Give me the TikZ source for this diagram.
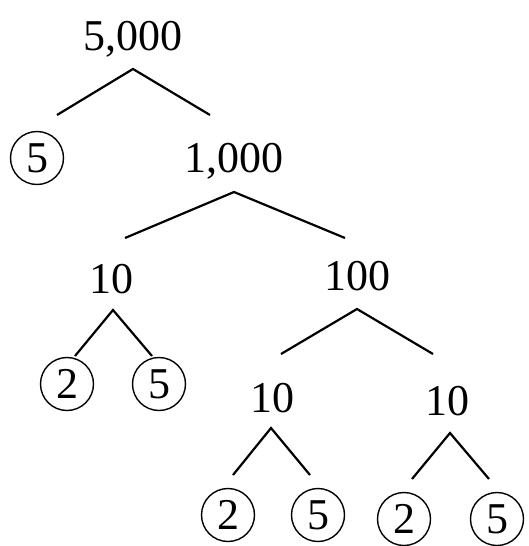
\documentclass[tikz,border=0pt]{standalone}
\usepackage{fontspec}
\setmainfont{Liberation Serif}
\begin{document}
\begin{tikzpicture}[x=1pt,y=-1pt,
  num/.style={inner sep=0pt,anchor=base,font=\fontsize{44}{50}\selectfont},
  circ/.style={circle,draw,line width=1.4pt,minimum size=53pt,inner sep=0pt,font=\fontsize{44}{50}\selectfont},
  branch/.style={line width=2.2pt}]
\useasboundingbox (0,0) rectangle (529,546);
% numbers
\node[num] (n5000) at (133,50) {5,000};
\node[num] (n1000) at (234,172) {1,000};
\node[num] (n10a) at (111,293) {10};
\node[num] (n100) at (357,290) {100};
\node[num] (n10b) at (272,412) {10};
\node[num] (n10c) at (447,415) {10};
% circled primes
\node[circ] (c5a) at (37,158) {\raisebox{-0.5pt}{5}};
\node[circ] (c2a) at (67,384) {2};
\node[circ] (c5b) at (159,384) {5};
\node[circ] (c2b) at (228,515) {2};
\node[circ] (c5c) at (318,515) {5};
\node[circ] (c2c) at (404,519) {2};
\node[circ] (c5d) at (497,519) {5};
% branch points
\coordinate (t5000) at (133,69);
\coordinate (l5000) at (57,115);
\coordinate (r5000) at (210,115);
\coordinate (t1000) at (234,192);
\coordinate (l1000) at (125,238);
\coordinate (r1000) at (345,238);
\coordinate (t10a) at (113,310);
\coordinate (l10a) at (75,356);
\coordinate (r10a) at (152,356);
\coordinate (t100) at (357,309);
\coordinate (l100) at (281,354);
\coordinate (r100) at (433,354);
\coordinate (t10b) at (271,428);
\coordinate (l10b) at (233,475);
\coordinate (r10b) at (310,475);
\coordinate (t10c) at (450,433);
\coordinate (l10c) at (412,479);
\coordinate (r10c) at (489,479);
\draw[branch] (l5000) -- (t5000) -- (r5000);
\draw[branch] (l1000) -- (t1000) -- (r1000);
\draw[branch] (l10a) -- (t10a) -- (r10a);
\draw[branch] (l100) -- (t100) -- (r100);
\draw[branch] (l10b) -- (t10b) -- (r10b);
\draw[branch] (l10c) -- (t10c) -- (r10c);
\end{tikzpicture}
\end{document}
